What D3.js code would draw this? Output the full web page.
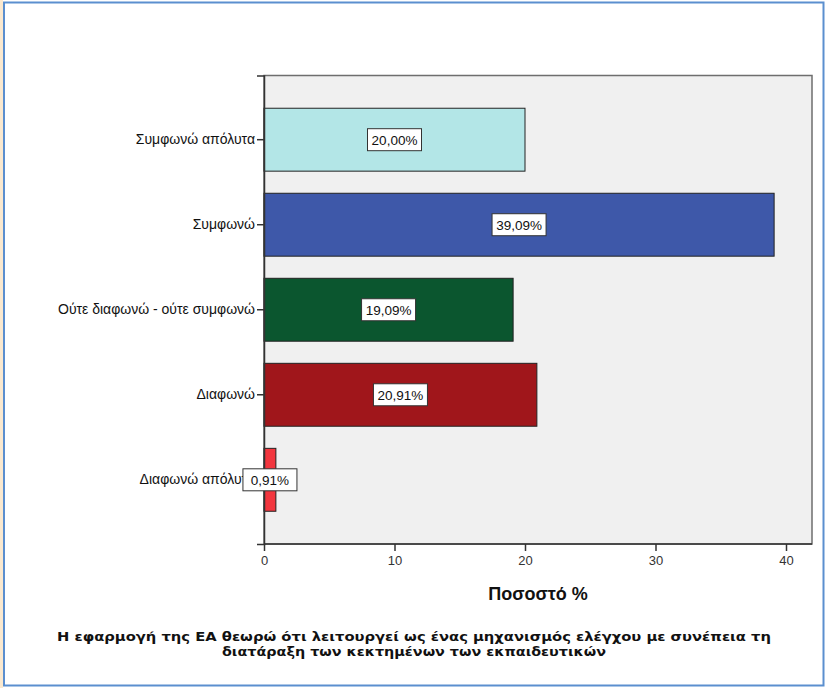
<!DOCTYPE html>
<html>
<head>
<meta charset="utf-8">
<script src="https://cdn.jsdelivr.net/npm/d3@7"></script>
<style>
  body { margin: 0; background: #fff; }
</style>
</head>
<body>
<svg width="827" height="688"></svg>
<script>
const categories = ["Συμφωνώ απόλυτα", "Συμφωνώ", "Ούτε διαφωνώ - ούτε συμφωνώ", "Διαφωνώ", "Διαφωνώ απόλυτα"];
const percents = [20.00, 39.09, 19.09, 20.91, 0.91];
const barColors = ["#b3e6e7", "#3e58a9", "#0b562f", "#a0161b", "#f2363e"];
const xTicks = [0, 10, 20, 30, 40];
const titleLines = [
  "Η εφαρμογή της ΕΑ θεωρώ ότι λειτουργεί ως ένας μηχανισμός ελέγχου με συνέπεια τη",
  "διατάραξη των κεκτημένων των εκπαιδευτικών"
];

const sans = "'Liberation Sans', Arial, sans-serif";
const svg = d3.select("svg");

// outer frame
svg.append("rect").attr("x", 0).attr("y", 0).attr("width", 3).attr("height", 688).attr("fill", "#fbe9cf");
svg.append("rect").attr("x", 4).attr("y", 2.5).attr("width", 819.5).attr("height", 683)
   .attr("fill", "#fff").attr("stroke", "#5b8fcf").attr("stroke-width", 2);

const plot = { left: 264, right: 812, top: 75.5, bottom: 544 };

const x = d3.scaleLinear().domain([0, 42]).range([plot.left, plot.left + 42 * 13.05]);
const y = d3.scaleBand().domain(categories)
            .range([plot.top, plot.bottom])
            .paddingInner(0.26).paddingOuter(0.385);

svg.append("rect")
   .attr("x", plot.left).attr("y", plot.top)
   .attr("width", plot.right - plot.left).attr("height", plot.bottom - plot.top)
   .attr("fill", "#f0f0f0").attr("stroke", "#6e6e6e").attr("stroke-width", 1.5);

const bars = categories.map((c, i) => ({ cat: c, val: percents[i], color: barColors[i] }));

svg.selectAll(".bar")
   .data(bars)
   .enter().append("rect")
   .attr("class", "bar")
   .attr("x", x(0))
   .attr("y", d => y(d.cat))
   .attr("width", d => x(d.val) - x(0))
   .attr("height", y.bandwidth())
   .attr("fill", d => d.color)
   .attr("stroke", "#222")
   .attr("stroke-width", 1);

// y axis
const yAxis = svg.append("g")
   .attr("transform", `translate(${plot.left},0)`)
   .call(d3.axisLeft(y).tickSize(7).tickPadding(2));
yAxis.select(".domain").attr("stroke", "#333").attr("stroke-width", 1.5);
yAxis.selectAll(".tick line").attr("stroke", "#333").attr("stroke-width", 1.5);
yAxis.selectAll(".tick text").style("font-size", "14px").style("font-family", sans).attr("fill", "#111");

// x axis
const xAxis = svg.append("g")
   .attr("transform", `translate(0,${plot.bottom})`)
   .call(d3.axisBottom(x).tickValues(xTicks).tickSize(7).tickPadding(5));
xAxis.select(".domain").remove();
xAxis.selectAll(".tick line").attr("stroke", "#333").attr("stroke-width", 1.5);
xAxis.selectAll(".tick text").style("font-size", "13px").style("font-family", sans).attr("fill", "#333");
svg.append("line").attr("x1", plot.left).attr("x2", plot.right)
   .attr("y1", plot.bottom).attr("y2", plot.bottom)
   .attr("stroke", "#333").attr("stroke-width", 1.5);

// value labels
const fmt = v => d3.format(".2f")(v).replace(".", ",") + "%";
const labels = svg.selectAll(".lab")
   .data(bars)
   .enter().append("g")
   .attr("class", "lab")
   .attr("transform", d => `translate(${(x(0) + x(d.val)) / 2},${y(d.cat) + y.bandwidth() / 2})`);
labels.append("rect")
   .attr("x", -27).attr("y", -11).attr("width", 54).attr("height", 22)
   .attr("fill", "#fff").attr("stroke", "#333").attr("stroke-width", 1);
labels.append("text")
   .attr("text-anchor", "middle").attr("dy", "0.36em")
   .style("font-size", "13.5px").style("font-family", sans).attr("fill", "#111")
   .text(d => fmt(d.val));

// axis title
svg.append("text")
   .attr("x", (plot.left + plot.right) / 2).attr("y", 600)
   .attr("text-anchor", "middle")
   .style("font-size", "18px").style("font-family", sans).style("font-weight", "bold").attr("fill", "#111")
   .text("Ποσοστό %");

// chart title
const titleWidths = [714, 384];
svg.selectAll(".title")
   .data(titleLines)
   .enter().append("text")
   .attr("class", "title")
   .attr("x", 414).attr("y", (d, i) => 641 + i * 15)
   .attr("text-anchor", "middle")
   .style("font-family", "'DejaVu Sans', Verdana, sans-serif")
   .style("font-size", "13px").style("font-weight", "bold").attr("fill", "#111")
   .attr("textLength", (d, i) => titleWidths[i])
   .attr("lengthAdjust", "spacingAndGlyphs")
   .text(d => d);
</script>
</body>
</html>
